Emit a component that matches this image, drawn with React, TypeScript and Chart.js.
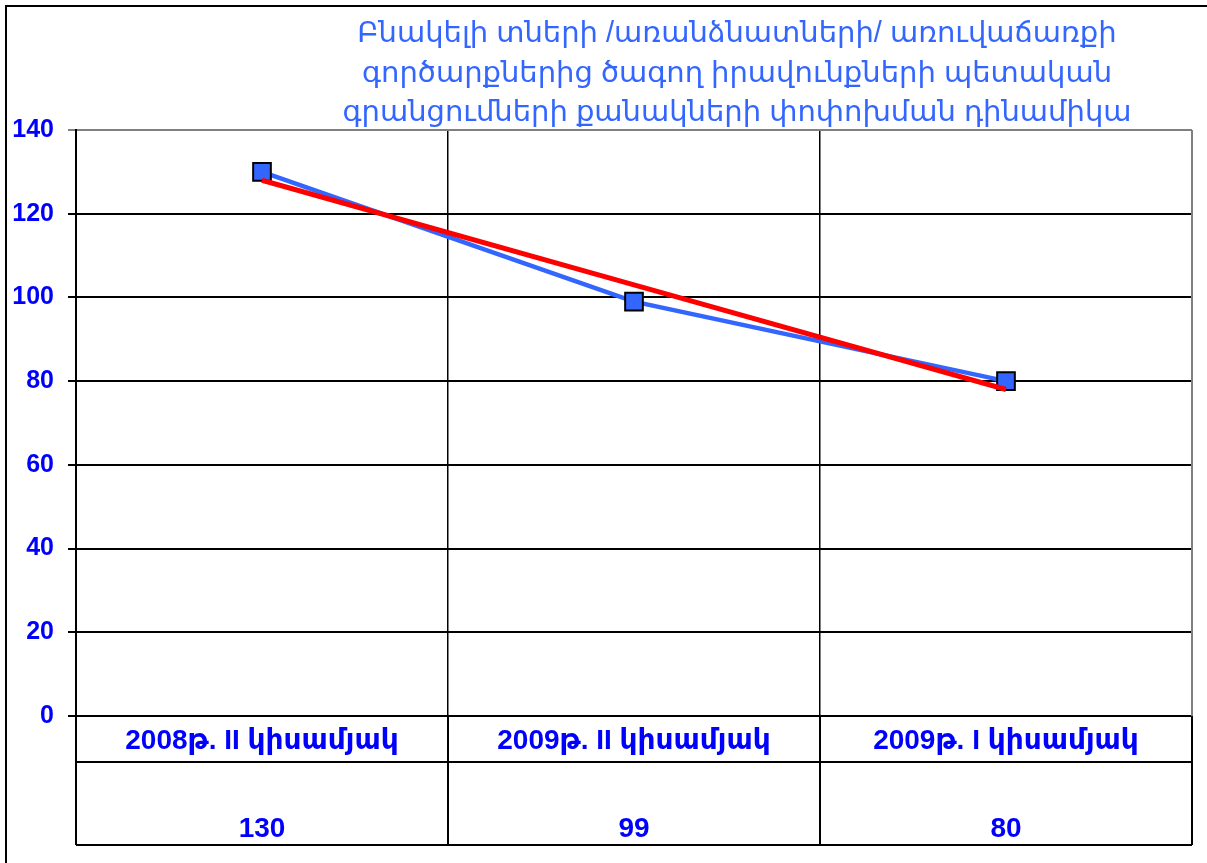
import React, { useEffect, useRef } from "react";
import { Chart, registerables } from "chart.js";

Chart.register(...registerables);

const titleLines = [
  "Բնակելի տների /առանձնատների/ առուվաճառքի",
  "գործարքներից ծագող իրավունքների պետական",
  "գրանցումների քանակների փոփոխման դինամիկա",
];
const categories = ["2008թ. II կիսամյակ", "2009թ. II կիսամյակ", "2009թ. I կիսամյակ"];
const counts = [130, 99, 80];
const trend = [128, 103, 78];
const yMin = 0;
const yMax = 140;
const yStep = 20;

const FONT = "'Liberation Sans', Arial, 'DejaVu Sans', sans-serif";
const W = 1207;
const H = 863;

const tablePlugin = {
  id: "tablePlugin",
  beforeDraw(chart: any) {
    const ctx = chart.ctx;
    ctx.save();
    ctx.fillStyle = "#ffffff";
    ctx.fillRect(0, 0, chart.width, chart.height);
    ctx.restore();
  },
  afterDraw(chart: any) {
    const ctx = chart.ctx;
    const { left, right, top, bottom } = chart.chartArea;
    const x = chart.scales.x;
    ctx.save();
    // outer border
    ctx.strokeStyle = "#000";
    ctx.lineWidth = 2;
    ctx.beginPath();
    ctx.moveTo(6, H + 5);
    ctx.lineTo(6, 6);
    ctx.lineTo(W + 5, 6);
    ctx.stroke();

    // plot right border (gray)
    ctx.strokeStyle = "#808080";
    ctx.lineWidth = 2;
    ctx.beginPath();
    ctx.moveTo(right, top);
    ctx.lineTo(right, bottom);
    ctx.stroke();

    // table
    const row1 = bottom + 46;
    const row2 = bottom + 129;
    const bounds: number[] = [left];
    for (let i = 0; i < categories.length - 1; i++) {
      bounds.push((x.getPixelForValue(i) + x.getPixelForValue(i + 1)) / 2);
    }
    bounds.push(right);
    ctx.strokeStyle = "#000";
    ctx.lineWidth = 2;
    ctx.beginPath();
    ctx.moveTo(left, row1);
    ctx.lineTo(right, row1);
    ctx.moveTo(left, row2);
    ctx.lineTo(right, row2);
    bounds.forEach((b) => {
      ctx.moveTo(b, bottom);
      ctx.lineTo(b, row2);
    });
    ctx.stroke();

    ctx.fillStyle = "#0000ff";
    ctx.textAlign = "center";
    ctx.textBaseline = "middle";
    ctx.font = "bold 28px " + FONT;
    categories.forEach((c, i) => {
      ctx.fillText(c, x.getPixelForValue(i), bottom + 25);
    });
    counts.forEach((v, i) => {
      ctx.fillText(String(v), x.getPixelForValue(i), bottom + 113);
    });

    // title
    ctx.fillStyle = "#3366ff";
    ctx.font = "29px " + FONT;
    titleLines.forEach((t, i) => {
      ctx.fillText(t, 737, 34 + i * 39.5);
    });
    ctx.restore();
  },
};

export default function App() {
  const ref = useRef<HTMLCanvasElement>(null);
  useEffect(() => {
    document.body.style.margin = "0";
    const chart = new Chart(ref.current!, {
      type: "line",
      data: {
        labels: categories,
        datasets: [
          {
            label: "trend",
            data: trend,
            borderColor: "#ff0000",
            borderWidth: 5,
            pointRadius: 0,
            order: 0,
          },
          {
            label: "counts",
            data: counts,
            borderColor: "#3366ff",
            borderWidth: 4.5,
            pointStyle: "rect",
            pointRadius: 12.5,
            pointBackgroundColor: "#3366ff",
            pointBorderColor: "#000",
            pointBorderWidth: 2,
            order: 1,
          },
        ],
      },
      options: {
        responsive: false,
        animation: false,
        layout: { padding: { top: 130, right: 15, left: 0, bottom: 0 } },
        plugins: { legend: { display: false }, tooltip: { enabled: false }, title: { display: false } },
        scales: {
          x: {
            offset: true,
            ticks: { display: false },
            grid: { offset: true, color: "#000", lineWidth: 1.5, drawTicks: false },
            border: { color: "#000", width: 2 },
            afterFit: (s: any) => {
              s.height = 147;
            },
          },
          y: {
            min: yMin,
            max: yMax,
            ticks: {
              stepSize: yStep,
              color: "#0000ff",
              font: { family: FONT, size: 25, weight: "bold" },
              padding: 14,
            },
            grid: {
              color: (c: any) => (c.tick && c.tick.value === yMax ? "#808080" : "#000"),
              lineWidth: 2,
              tickLength: 8,
            },
            border: { color: "#000", width: 2 },
            afterFit: (s: any) => {
              s.width = 76;
            },
          },
        },
      },
      plugins: [tablePlugin],
    });
    return () => chart.destroy();
  }, []);
  return (
    <div style={{ position: "absolute", left: 0, top: 0, width: W, height: H }}>
      <canvas ref={ref} width={W} height={H} />
    </div>
  );
}
